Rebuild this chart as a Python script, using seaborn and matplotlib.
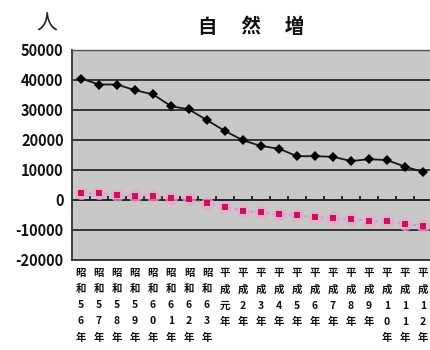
import matplotlib
matplotlib.use("Agg")
import matplotlib.pyplot as plt
import seaborn as sns
import pandas as pd
import numpy as np

# Fiscal-year categories, each written as a vertical stack of characters
years = [["昭", "和", "5", "6", "年"], ["昭", "和", "5", "7", "年"],
         ["昭", "和", "5", "8", "年"], ["昭", "和", "5", "9", "年"],
         ["昭", "和", "6", "0", "年"], ["昭", "和", "6", "1", "年"],
         ["昭", "和", "6", "2", "年"], ["昭", "和", "6", "3", "年"],
         ["平", "成", "元", "年"], ["平", "成", "2", "年"],
         ["平", "成", "3", "年"], ["平", "成", "4", "年"],
         ["平", "成", "5", "年"], ["平", "成", "6", "年"],
         ["平", "成", "7", "年"], ["平", "成", "8", "年"],
         ["平", "成", "9", "年"], ["平", "成", "1", "0", "年"],
         ["平", "成", "1", "1", "年"], ["平", "成", "1", "2", "年"]]

# Natural increase series (persons)
series_upper = [40500, 38500, 38500, 36600, 35200, 31300, 30200, 26600, 23000, 19900,
                18000, 17100, 14600, 14600, 14400, 13000, 13600, 13300, 11100, 9400]
series_lower = [2200, 2200, 1700, 1400, 1400, 600, 300, -1100, -2200, -3600,
                -4100, -4800, -5000, -5800, -6100, -6400, -6900, -7100, -8000, -8600]

y_ticks = [50000, 40000, 30000, 20000, 10000, 0, -10000, -20000]

sns.set_theme(style="white")
plt.rcParams["font.family"] = ["Noto Sans CJK JP", "DejaVu Sans"]
plt.rcParams["axes.unicode_minus"] = False

df = pd.DataFrame({"pos": np.arange(len(years)),
                   "upper": series_upper,
                   "lower": series_lower})

fig = plt.figure(figsize=(4.3, 3.5), dpi=100)
fig.patch.set_facecolor("white")
ax = fig.add_axes([72 / 430, 1 - 260 / 350, 360 / 430, 210 / 350])
ax.set_facecolor("#c8c8c8")

# horizontal gridlines every 10000
for yv in y_ticks:
    ax.axhline(yv, color="#2a2a2a", lw=1.3, zorder=1)

# lower series: soft pink glow under crimson squares, dotted pink link
sns.lineplot(data=df, x="pos", y="lower", ax=ax, color="#e27fb2", lw=1.4,
             linestyle=(0, (1.5, 2.5)), marker="o", markersize=9.5,
             markeredgewidth=0, markerfacecolor="#f2a2cb", alpha=0.7, zorder=3)
sns.lineplot(data=df, x="pos", y="lower", ax=ax, color="#c01660", lw=0,
             marker="s", markersize=5, markeredgewidth=0, zorder=4)

# upper series: dark line with black diamonds
sns.lineplot(data=df, x="pos", y="upper", ax=ax, color="#15152a", lw=1.3,
             marker="D", markersize=5, markeredgewidth=0,
             markerfacecolor="black", zorder=5)

ax.set_xlim(-0.5, len(years) - 0.5)
ax.set_ylim(-20000, 50000)
ax.set_yticks(y_ticks)
ax.set_yticklabels([str(v) for v in y_ticks], fontsize=10.5, fontweight="bold",
                   color="#111111")
ax.tick_params(axis="y", length=0, pad=6)

ax.set_xticks(df["pos"])
ax.set_xticklabels(["\n".join(chars) for chars in years],
                   fontsize=7.5, fontweight="bold", linespacing=1.75,
                   color="#111111", va="top")
ax.tick_params(axis="x", length=0, pad=6)
ax.set_xlabel("")
ax.set_ylabel("")

# zero-line axis with small category boundary ticks
sec = ax.secondary_xaxis(2 / 7)
sec.set_xticks(np.arange(len(years) - 1) + 0.5)
sec.set_xticklabels([])
sec.tick_params(axis="x", direction="in", length=3, width=1.2, color="#111111")
sec.spines["bottom"].set_color("#111111")
sec.spines["bottom"].set_linewidth(1.3)

for side in ["left", "bottom"]:
    ax.spines[side].set_color("#333333")
    ax.spines[side].set_linewidth(1.3)
for side in ["top", "right"]:
    ax.spines[side].set_color("#555555")
    ax.spines[side].set_linewidth(1.0)

fig.text(251 / 430, 1 - 27 / 350, "自　 然　 増", ha="center", va="center",
         fontsize=14, fontweight="bold", color="#111111")
fig.text(47 / 430, 1 - 24 / 350, "人", ha="center", va="center",
         fontsize=15, color="#222222")

fig.savefig("out.png", dpi=100, facecolor="white")
